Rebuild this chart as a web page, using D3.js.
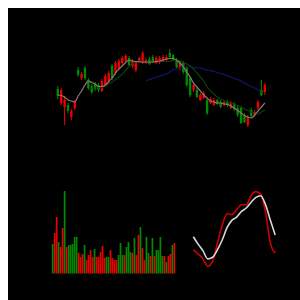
<!DOCTYPE html>
<html>
<head>
<meta charset="utf-8">
<script src="https://cdn.jsdelivr.net/npm/d3@7"></script>
<style>
  html, body { margin: 0; padding: 0; overflow: hidden; background: #fff; }
  svg { display: block; }
</style>
</head>
<body>
<div id="chart"></div>
<script>
// daily candles (price)
var open  = [16.1,14.7,14.3,14.5,13.3,14.2,18.0,17.2,18.2,17.0,16.4,16.6,16.5,15.9,16.5,16.9,18.4,17.7,18.2,18.7,18.9,19.2,18.4,18.0,18.9,18.7,18.7,19.1,19.3,18.7,18.8,18.9,19.0,19.7,19.5,19.0,18.2,18.7,18.2,17.2,16.0,16.0,15.0,15.2,15.0,14.7,14.5,15.0,14.8,14.5,14.8,14.2,14.6,14.2,14.2,13.5,12.5,14.0,13.5,14.2,16.0,15.8];
var close = [15.4,16.0,15.0,13.9,13.9,14.8,17.5,17.6,17.2,16.2,15.8,16.1,16.0,16.9,17.4,17.7,17.2,18.7,18.9,19.2,19.4,18.5,18.9,18.7,19.2,19.7,19.0,18.6,18.8,19.2,19.2,19.3,19.3,19.3,19.0,18.3,18.8,17.8,16.5,15.5,16.5,15.3,15.5,15.7,13.7,15.1,15.0,14.6,14.3,14.8,14.5,14.7,14.1,13.5,12.7,12.8,13.3,13.4,13.8,14.8,15.5,16.5];
var high  = [16.4,16.2,15.4,14.7,14.1,15.0,18.3,17.8,18.4,17.2,16.6,16.8,16.7,17.1,17.6,17.9,18.6,18.9,19.1,19.4,19.6,19.4,19.1,18.9,19.3,19.9,19.2,19.3,19.5,19.4,19.4,19.5,19.5,20.1,19.6,19.2,19.0,18.9,18.4,17.4,16.7,16.2,15.7,15.9,15.2,15.3,15.2,15.1,15.0,14.9,15.0,14.9,14.8,14.4,14.4,13.7,13.5,14.2,14.0,15.0,17.0,16.7];
var low   = [15.1,14.5,12.5,13.7,13.0,14.0,17.3,17.0,17.0,16.0,15.6,15.9,15.8,15.8,16.3,16.7,17.0,17.5,18.0,18.5,18.8,18.4,18.2,17.8,18.8,18.6,18.6,18.5,18.7,18.6,18.6,18.8,18.9,19.2,18.9,18.2,18.0,17.6,16.3,15.3,15.8,15.2,14.9,15.1,13.5,14.6,14.4,14.5,14.2,14.4,14.3,14.1,13.9,13.3,12.6,12.7,12.3,13.2,13.3,14.0,15.4,15.5];

// moving averages (null = not drawn)
var ma5 = [15.5,15.45,15.3,15.0,14.9,14.8,15.4,15.9,16.5,16.9,16.75,16.6,16.35,16.35,16.5,16.85,17.2,17.7,18.1,18.4,18.75,19.0,18.9,18.85,18.8,18.8,18.8,18.8,18.8,18.85,18.9,19.0,19.1,19.15,19.15,19.0,18.7,18.3,17.8,17.3,16.7,16.3,15.9,15.5,15.2,14.9,14.8,14.7,14.7,14.6,14.55,14.4,14.2,13.95,13.7,13.45,13.3,13.2,13.5,13.9,14.3,14.7];
var ma10 = [null,null,null,null,null,null,null,null,null,16.0,16.2,16.2,16.2,16.25,16.4,16.6,16.8,17.05,17.3,17.6,18.0,18.35,18.65,18.8,18.85,18.85,18.85,18.85,18.85,18.85,18.85,18.85,18.85,18.85,18.95,18.95,18.9,18.75,18.6,18.4,18.1,17.7,17.3,16.9,16.3,15.9,15.6,15.3,15.1,14.95,14.8,14.7,14.6,14.45,14.3,14.1,13.95,13.8,13.6,13.6,13.8,14.0];
var ma30 = [null,null,null,null,null,null,null,null,null,null,null,null,null,null,null,null,null,null,null,null,null,null,null,null,null,null,16.93,17.05,17.17,17.28,17.4,17.5,17.6,17.8,18.0,18.15,18.25,18.3,18.3,18.3,18.25,18.2,18.2,18.1,18.0,17.95,17.85,17.75,17.65,17.55,17.45,17.3,17.15,17.05,16.9,16.7,16.5,16.35,16.2,16.0,15.8,null];

// volume
var volume = [2950,4050,5650,3150,2650,4550,8250,2650,2850,2850,2950,3650,3650,2050,1650,1950,2850,1350,1850,2350,1650,2450,1650,1650,2150,2750,1550,1650,1650,2350,1550,1350,1350,1850,3050,1850,1850,2650,3150,2150,2050,3550,1850,3850,4650,2550,1350,3650,2050,1750,3550,1750,2350,2350,3650,1750,1750,1150,1750,1950,2850,3050];

// oscillator
var oscWhite = [43,34,26,16,18,27,39,54,63,67,74,78,85,91,93,82,63,45];
var oscRed   = [27,22,16,7,13,35,57,71,70,76,82,82,93,98,95,73,35,23];

var upColor = "#ee0000";
var downColor = "#008a00";

var svg = d3.select("#chart").append("svg")
    .attr("width", 300)
    .attr("height", 300);

var g = svg.append("g").attr("transform", "translate(8,8)");

g.append("rect")
    .attr("width", 292)
    .attr("height", 292)
    .attr("fill", "#000");

var idx = d3.range(open.length);

// candle panel
var x = d3.scaleBand().domain(idx).range([47.6, 259]).padding(0.3);
var y = d3.scaleLinear().domain([10, 20]).range([142, 42]);

function color(i) { return close[i] >= open[i] ? upColor : downColor; }

var candles = g.append("g");
candles.selectAll("line")
    .data(idx)
    .join("line")
    .attr("x1", function (i) { return x(i) + x.bandwidth() / 2; })
    .attr("x2", function (i) { return x(i) + x.bandwidth() / 2; })
    .attr("y1", function (i) { return y(high[i]); })
    .attr("y2", function (i) { return y(low[i]); })
    .attr("stroke", color)
    .attr("stroke-width", 1);

candles.selectAll("rect")
    .data(idx)
    .join("rect")
    .attr("x", function (i) { return x(i); })
    .attr("width", x.bandwidth())
    .attr("y", function (i) { return y(Math.max(open[i], close[i])); })
    .attr("height", function (i) { return Math.max(1, Math.abs(y(open[i]) - y(close[i]))); })
    .attr("fill", color);

var maLine = d3.line()
    .defined(function (d) { return d != null; })
    .x(function (d, i) { return x(i) + x.bandwidth() / 2; })
    .y(function (d) { return y(d); })
    .curve(d3.curveMonotoneX);

g.append("path").datum(ma30).attr("d", maLine)
    .attr("fill", "none").attr("stroke", "#14146e").attr("stroke-width", 1.2);
g.append("path").datum(ma10).attr("d", maLine)
    .attr("fill", "none").attr("stroke", "#0b400b").attr("stroke-width", 1.2);
g.append("path").datum(ma5).attr("d", maLine)
    .attr("fill", "none").attr("stroke", "#8a7878").attr("stroke-width", 1.2);

// volume panel
var xv = d3.scaleBand().domain(idx).range([43.5, 167.5]).padding(0.15);
var yv = d3.scaleLinear().domain([0, d3.max(volume)]).range([265.5, 183]);

g.append("g").selectAll("rect")
    .data(idx)
    .join("rect")
    .attr("x", function (i) { return xv(i); })
    .attr("width", xv.bandwidth())
    .attr("y", function (i) { return yv(volume[i]); })
    .attr("height", function (i) { return yv(0) - yv(volume[i]); })
    .attr("fill", color);

// oscillator panel
var xo = d3.scaleLinear().domain([0, oscWhite.length - 1]).range([185.3, 267.2]);
var yo = d3.scaleLinear().domain([0, 100]).range([264, 182]);

var oscLine = d3.line()
    .x(function (d, i) { return xo(i); })
    .y(function (d) { return yo(d); })
    .curve(d3.curveMonotoneX);

g.append("path").datum(oscRed).attr("d", oscLine)
    .attr("fill", "none").attr("stroke", "#cc0000").attr("stroke-width", 1.6);
g.append("path").datum(oscWhite).attr("d", oscLine)
    .attr("fill", "none").attr("stroke", "#d8d8d8").attr("stroke-width", 1.6);
</script>
</body>
</html>
